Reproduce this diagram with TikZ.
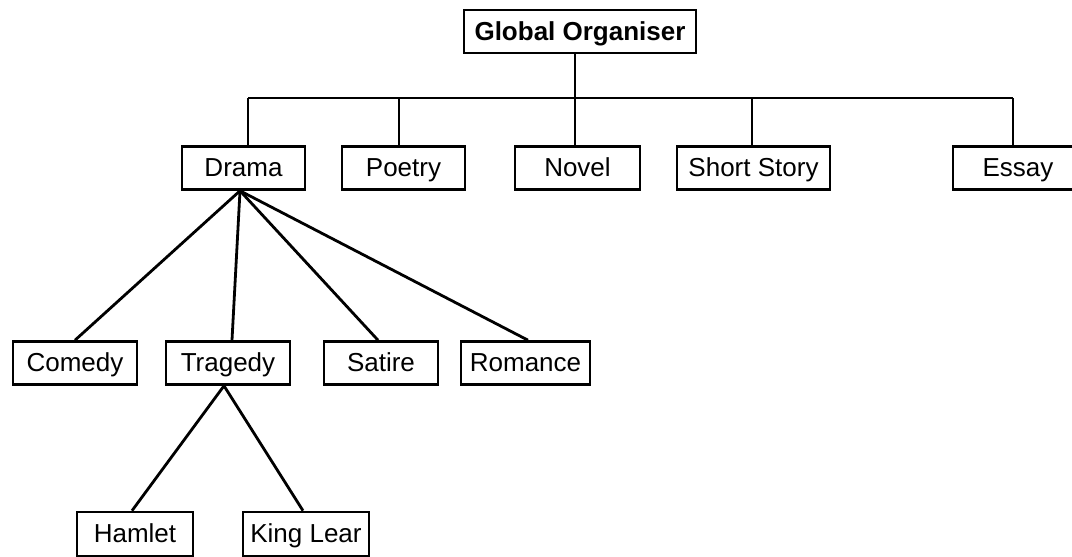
\documentclass[tikz,border=0pt]{standalone}
\usepackage{fontspec}
\setmainfont{Liberation Sans}
\usepackage{tikz}
\usetikzlibrary{positioning}

\begin{document}
\begin{tikzpicture}[x=1pt,y=-1pt,
    box/.style={draw,line width=2.6pt,minimum height=43pt,inner sep=0pt,
      text height=19pt,text depth=1.5pt,
      font=\fontsize{26}{30}\selectfont},
    link/.style={line width=2.8pt}]
        \useasboundingbox (0,0) rectangle (1072,557);
        % Top box
        \node[box,minimum width=232pt,font=\fontsize{26}{30}\selectfont\bfseries] (glob) at (580,31.5) {Global Organiser};
        % First row
        \node[box,minimum width=123pt] (drama) at (243.5,168) {Drama};
        \node[box,minimum width=123pt] (poetry) at (403.5,168) {Poetry};
        \node[box,minimum width=125pt] (novel) at (577.5,168) {Novel};
        \node[box,minimum width=153pt] (short) at (753.5,168) {Short Story};
        \node[box,minimum width=130pt] (essay) at (1018,168) {Essay};
        % Second row
        \node[box,minimum width=124pt] (comedy) at (75,363) {Comedy};
        \node[box,minimum width=124pt] (tragedy) at (228,363) {Tragedy};
        \node[box,minimum width=114pt] (satire) at (381,363) {Satire};
        \node[box,minimum width=129pt] (romance) at (525.5,363) {Romance};
        % Third row
        \node[box,minimum width=116pt,minimum height=44pt] (hamlet) at (135,534) {Hamlet};
        \node[box,minimum width=126pt,minimum height=44pt] (lear) at (306,534) {King Lear};
        % Bar under the top box
        \coordinate (bar) at (575,98);
        \draw[link] ([xshift=-5pt]glob.south) -- (bar);
        \draw[link] ([xshift=4.5pt]drama.north |- bar) -- ([xshift=-5pt]essay.north |- bar);
        \draw[link] ([xshift=4.5pt]drama.north) -- ([xshift=4.5pt]drama.north |- bar);
        \draw[link] ([xshift=-4.5pt]poetry.north) -- ([xshift=-4.5pt]poetry.north |- bar);
        \draw[link] ([xshift=-2.5pt]novel.north) -- ([xshift=-2.5pt]novel.north |- bar);
        \draw[link] ([xshift=-1.5pt]short.north) -- ([xshift=-1.5pt]short.north |- bar);
        \draw[link] ([xshift=-5pt]essay.north) -- ([xshift=-5pt]essay.north |- bar);
        % Lines from Drama
        \coordinate (apex) at ([xshift=-3.5pt]drama.south);
        \draw[link] (apex) -- (comedy.north);
        \draw[link] (apex) -- ([xshift=4pt]tragedy.north);
        \draw[link] (apex) -- ([xshift=-3pt]satire.north);
        \draw[link] (apex) -- ([xshift=2.5pt]romance.north);
        % Lines from Tragedy
        \coordinate (tip) at ([xshift=-4pt]tragedy.south);
        \draw[link] (tip) -- ([xshift=-3pt]hamlet.north);
        \draw[link] (tip) -- ([xshift=-3pt]lear.north);
\end{tikzpicture}
\end{document}
